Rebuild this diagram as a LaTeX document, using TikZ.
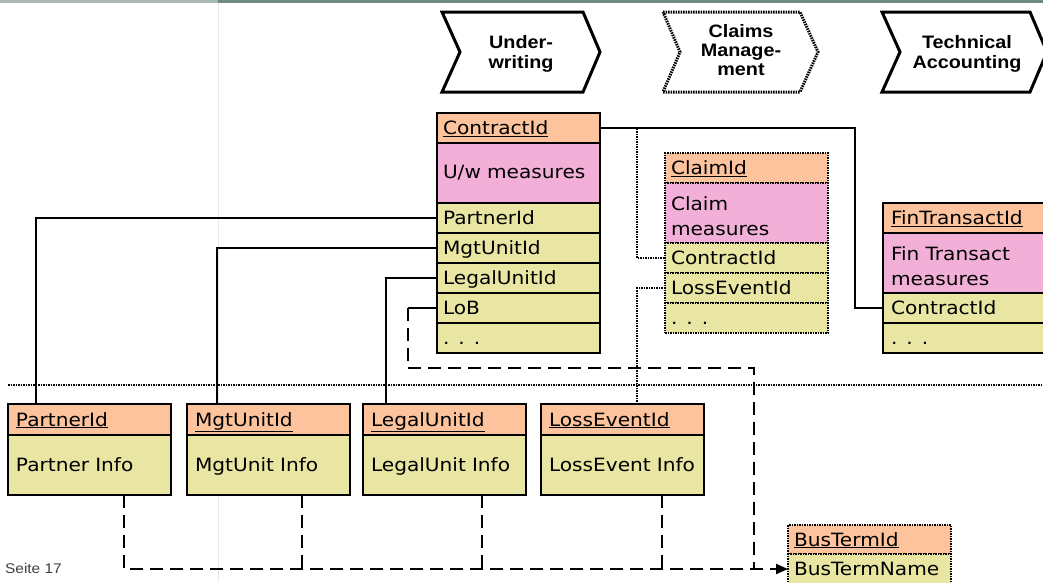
\documentclass[tikz,border=0pt]{standalone}
\usepackage{fontspec}
\setmainfont{DejaVu Sans}[FakeStretch=1.1]
\newfontfamily\phasefont{Liberation Sans}[FakeStretch=1.1]
\newfontfamily\seitefont{Liberation Sans}[FakeStretch=1.1]
\usetikzlibrary{arrows.meta}
\definecolor{hdrc}{HTML}{FCC39C}
\definecolor{pinkc}{HTML}{F2B0D8}
\definecolor{yelc}{HTML}{E8E6A2}
\definecolor{barl}{HTML}{A9B9B1}
\definecolor{bard}{HTML}{6F8A7E}
\definecolor{faint}{HTML}{E8E8E8}
\newcommand{\tdots}{.\hspace{9pt}.\hspace{9pt}.}
\tikzset{
  cell/.style={draw=black, line width=2pt, anchor=north west, outer sep=0pt,
    inner xsep=6pt, inner ysep=0pt, text width=151pt, align=left,
    minimum height=30pt, font=\fontsize{18.3}{25}\selectfont},
  oneline/.style={text height=15pt, text depth=2pt},
  wide/.style={inner xsep=8pt, text width=147pt},
  hdr/.style={cell, oneline, fill=hdrc},
  meas/.style={cell, fill=pinkc, minimum height=60pt},
  attr/.style={cell, oneline, fill=yelc},
  dotborder/.style={dash pattern=on 1.5pt off 1pt},
  solidline/.style={line width=2pt},
  dotline/.style={line width=2pt, dash pattern=on 1.5pt off 1pt},
  dashline/.style={line width=2pt, dash pattern=on 13pt off 7pt},
  phaseline/.style={line width=3pt, line join=miter},
  phasetext/.style={font=\phasefont\bfseries\fontsize{18}{20.5}\selectfont, align=center, inner sep=0pt},
}
\begin{document}
\begin{tikzpicture}[x=1pt, y=-1pt]
\useasboundingbox (0,0) rectangle (1043,582);
\clip (0,0) rectangle (1043,582);
% top bar and faint guide
\fill[barl] (0,0) rectangle (218,2.5);
\fill[bard] (218,0) rectangle (1043,2.5);
\draw[faint, line width=1pt] (218,2.5) -- (218,582);

% phase chevrons
\draw[phaseline] (442,12) -- (583,12) -- (600,52) -- (583,92) -- (442,92) -- (460,52) -- cycle;
\node[phasetext] (uw) at (521,54) {Under-\\writing};
\draw[phaseline, dash pattern=on 1.5pt off 1pt] (663,12) -- (800,12) -- (818,52) -- (800,92) -- (663,92) -- (680,52) -- cycle;
\node[phasetext, font=\phasefont\bfseries\fontsize{18}{19}\selectfont] (cm) at (741,50) {Claims\\Manage-\\ment};
\draw[phaseline] (882,12) -- (1030,12) -- (1047,52) -- (1030,92) -- (882,92) -- (900,52) -- cycle;
\node[phasetext] (ta) at (967,54) {Technical\\Accounting};

% separator
\draw[line width=1.5pt, dash pattern=on 1.5pt off 1pt] (8,385) -- (1043,385);

% contract table
\node[hdr] (ct-id) at (437,113) {\underline{ContractId}};
\node[meas] (ct-meas) at (ct-id.south west) {U/w measures};
\node[attr] (ct-partner) at (ct-meas.south west) {PartnerId};
\node[attr] (ct-mgt) at (ct-partner.south west) {MgtUnitId};
\node[attr] (ct-legal) at (ct-mgt.south west) {LegalUnitId};
\node[attr] (ct-lob) at (ct-legal.south west) {LoB};
\node[attr] (ct-dots) at (ct-lob.south west) {\tdots};

% claim table
\node[hdr, dotborder] (cl-id) at (665,153) {\underline{ClaimId}};
\node[meas, dotborder] (cl-meas) at (cl-id.south west) {\rule{0pt}{21pt}Claim\\measures};
\node[attr, dotborder] (cl-contract) at (cl-meas.south west) {ContractId};
\node[attr, dotborder] (cl-loss) at (cl-contract.south west) {LossEventId};
\node[attr, dotborder] (cl-dots) at (cl-loss.south west) {\tdots};

% fin transact table
\node[hdr, wide] (fin-id) at (883,203) {\underline{FinTransactId}};
\node[meas, wide] (fin-meas) at (fin-id.south west) {\rule{0pt}{21pt}Fin Transact\\measures};
\node[attr, wide] (fin-contract) at (fin-meas.south west) {ContractId};
\node[attr, wide] (fin-dots) at (fin-contract.south west) {\tdots};

% bottom tables
\node[hdr, wide, minimum height=31pt] (b-partner-id) at (8,404) {\underline{PartnerId}};
\node[attr, wide, minimum height=60pt] (b-partner-info) at (b-partner-id.south west) {Partner Info};
\node[hdr, wide, minimum height=31pt] (b-mgt-id) at (187,404) {\underline{MgtUnitId}};
\node[attr, wide, minimum height=60pt] (b-mgt-info) at (b-mgt-id.south west) {MgtUnit Info};
\node[hdr, wide, minimum height=31pt] (b-legal-id) at (363,404) {\underline{LegalUnitId}};
\node[attr, wide, minimum height=60pt] (b-legal-info) at (b-legal-id.south west) {LegalUnit Info};
\node[hdr, wide, minimum height=31pt] (b-loss-id) at (541,404) {\underline{LossEventId}};
\node[attr, wide, minimum height=60pt] (b-loss-info) at (b-loss-id.south west) {\mbox{LossEvent Info}};

% business term table
\node[hdr, dotborder, minimum height=29pt] (bt-id) at (788,525) {\underline{BusTermId}};
\node[attr, dotborder] (bt-name) at (bt-id.south west) {BusTermName};

% connectors
\draw[solidline] (ct-id.east) -| ([xshift=-28pt]fin-contract.west) -- (fin-contract.west);
\draw[dotline] (ct-id.east) -| ([xshift=-28pt]cl-contract.west) -- (cl-contract.west);
\draw[dotline] (cl-loss.west) -| ([xshift=96pt]b-loss-id.north west);
\draw[solidline] (ct-partner.west) -| ([xshift=28pt]b-partner-id.north west);
\draw[solidline] (ct-mgt.west) -| ([xshift=30pt]b-mgt-id.north west);
\draw[solidline] (ct-legal.west) -| ([xshift=23pt]b-legal-id.north west);
\coordinate (lob-turn) at ([xshift=-29pt]ct-lob.west);
\draw[solidline] (ct-lob.west) -- (lob-turn);
\coordinate (lob-corner) at (754,368);
\coordinate (bus-corner) at (754,0 |- bt-name.west);
\draw[dashline] (lob-turn) |- (lob-corner) -- (bus-corner);
\draw[dashline, -{Triangle[length=12pt,width=10pt]}] ([xshift=116pt]b-partner-info.south west) |- (bt-name.west);
\coordinate (mgt-drop) at ([xshift=115pt]b-mgt-info.south west);
\coordinate (legal-drop) at ([xshift=119pt]b-legal-info.south west);
\coordinate (loss-drop) at ([xshift=121pt]b-loss-info.south west);
\draw[dashline] (mgt-drop) -- (mgt-drop |- bt-name.west);
\draw[dashline] (legal-drop) -- (legal-drop |- bt-name.west);
\draw[dashline] (loss-drop) -- (loss-drop |- bt-name.west);

\node[font=\seitefont\fontsize{14}{16}\selectfont, text=black!75, anchor=west, inner sep=0pt] (seite) at (5,568) {Seite 17};
\end{tikzpicture}
\end{document}
